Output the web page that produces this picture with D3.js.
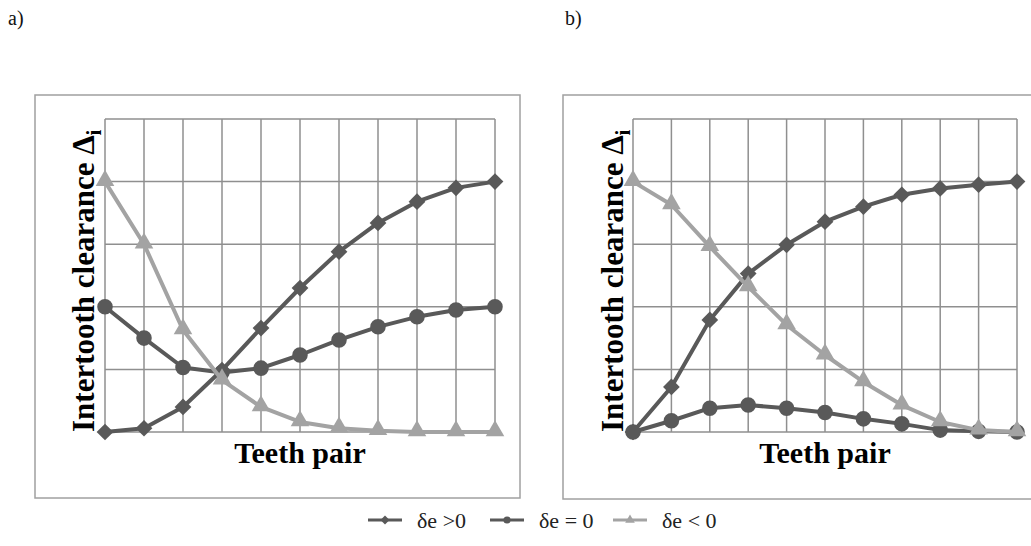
<!DOCTYPE html>
<html>
<head>
<meta charset="utf-8">
<script src="https://cdn.jsdelivr.net/npm/d3@7"></script>
<style>
  body { margin: 0; background: #fff; }
  svg { display: block; font-family: "Liberation Serif", "Times New Roman", serif; }
</style>
</head>
<body>
<svg id="chart" width="1031" height="546"></svg>
<script>
// ====================================
// Données (unités = lignes de grille)
// ====================================
const teethPairs = [0, 1, 2, 3, 4, 5, 6, 7, 8, 9, 10];
const yTicks = [0, 1, 2, 3, 4, 5];

// a)
const posA  = [0, 0.06, 0.40, 0.99, 1.66, 2.30, 2.88, 3.34, 3.68, 3.90, 4.0];
const zeroA = [2.0, 1.50, 1.03, 0.95, 1.02, 1.23, 1.47, 1.68, 1.84, 1.95, 2.0];
const negA  = [4.0, 3.0, 1.63, 0.83, 0.40, 0.16, 0.06, 0.02, 0, 0, 0];

// b)
const posB  = [0, 0.72, 1.79, 2.53, 2.99, 3.36, 3.60, 3.79, 3.89, 3.95, 4.0];
const zeroB = [0, 0.18, 0.38, 0.43, 0.38, 0.31, 0.21, 0.13, 0.03, 0.01, 0];
const negB  = [4.0, 3.63, 2.96, 2.32, 1.71, 1.23, 0.80, 0.43, 0.16, 0.03, 0];

const seriesNames = ["δe >0", "δe = 0", "δe < 0"];
const seriesSymbols = [d3.symbolSquare, d3.symbolCircle, d3.symbolTriangle];
const seriesColors = ["#595959", "#595959", "#a3a3a3"];

const svg = d3.select("#chart");

/**
 * Forme d'un marqueur (le losange est un carré tourné de 45°)
 * @private
 */
function markerPath(k, size) {
    return d3.symbol().type(seriesSymbols[k]).size(size)();
}

function markerRotate(k) {
    return k === 0 ? " rotate(45)" : "";
}

/**
 * Dessine un panneau (cadre, grille, courbes, titres d'axes)
 */
function drawPanel(p) {
    const g = svg.append("g");

    // cadre extérieur
    g.append("rect")
        .attr("x", p.frame[0]).attr("y", p.frame[1])
        .attr("width", p.frame[2]).attr("height", p.frame[3])
        .attr("fill", "none")
        .attr("stroke", "#a0a0a0")
        .attr("stroke-width", 1.5);

    g.append("text")
        .attr("x", p.tagX).attr("y", 25)
        .attr("font-size", 20)
        .attr("fill", "#111")
        .text(p.tag);

    const x = d3.scaleLinear().domain([0, 10]).range([p.left, p.right]);
    const y = d3.scaleLinear().domain([0, 5]).range([p.bottom, p.top]);

    // grille
    g.append("g")
        .selectAll("line")
        .data(teethPairs)
        .join("line")
        .attr("x1", d => x(d)).attr("x2", d => x(d))
        .attr("y1", y(0)).attr("y2", y(5))
        .attr("stroke", "#8f8f8f")
        .attr("stroke-width", 1.5);

    g.append("g")
        .selectAll("line")
        .data(yTicks)
        .join("line")
        .attr("x1", x(0)).attr("x2", x(10))
        .attr("y1", d => y(d)).attr("y2", d => y(d))
        .attr("stroke", "#8f8f8f")
        .attr("stroke-width", 1.5);

    const line = d3.line()
        .x((d, i) => x(teethPairs[i]))
        .y(d => y(d));

    p.series.forEach((values, k) => {
        g.append("path")
            .datum(values)
            .attr("d", line)
            .attr("fill", "none")
            .attr("stroke", seriesColors[k])
            .attr("stroke-width", 4)
            .attr("stroke-linejoin", "round");

        const size = [140, 190, 150][k];
        g.append("g")
            .selectAll("path")
            .data(values)
            .join("path")
            .attr("transform", (d, i) =>
                `translate(${x(teethPairs[i])},${y(d) + (k === 2 ? -1 : 0)})${markerRotate(k)}`)
            .attr("d", markerPath(k, size))
            .attr("fill", seriesColors[k]);
    });

    // titre axe Y
    const yl = g.append("text")
        .attr("transform", `translate(${p.yLabelX},${p.bottom}) rotate(-90)`)
        .attr("font-size", 31)
        .attr("font-weight", "bold")
        .attr("fill", "#000");
    yl.append("tspan").text("Intertooth clearance Δ");
    yl.append("tspan")
        .attr("dy", 7)
        .attr("font-size", 21)
        .text("i");

    // titre axe X
    g.append("text")
        .attr("x", (p.left + p.right) / 2)
        .attr("y", 463)
        .attr("text-anchor", "middle")
        .attr("font-size", 30)
        .attr("font-weight", "bold")
        .attr("fill", "#000")
        .text("Teeth pair");
}

drawPanel({
    tag: "a)", tagX: 8,
    frame: [35, 95, 485, 403],
    left: 105, right: 495, top: 119, bottom: 432,
    yLabelX: 94,
    series: [posA, zeroA, negA]
});

drawPanel({
    tag: "b)", tagX: 565,
    frame: [563, 95, 500, 404],
    left: 633, right: 1017, top: 119, bottom: 432,
    yLabelX: 623,
    series: [posB, zeroB, negB]
});

// légende
const legendX = [368, 490, 613];
const legend = svg.append("g")
    .selectAll("g")
    .data(seriesNames)
    .join("g")
    .attr("transform", (d, i) => `translate(${legendX[i]},520)`);

legend.append("line")
    .attr("x1", 0).attr("x2", 34)
    .attr("stroke", (d, i) => seriesColors[i])
    .attr("stroke-width", 3);

legend.append("path")
    .attr("transform", (d, i) => `translate(17,0)${markerRotate(i)}`)
    .attr("d", (d, i) => markerPath(i, 40))
    .attr("fill", (d, i) => seriesColors[i]);

legend.append("text")
    .attr("x", 49)
    .attr("y", 8)
    .attr("font-size", 22)
    .attr("fill", "#222")
    .text(d => d);
</script>
</body>
</html>
